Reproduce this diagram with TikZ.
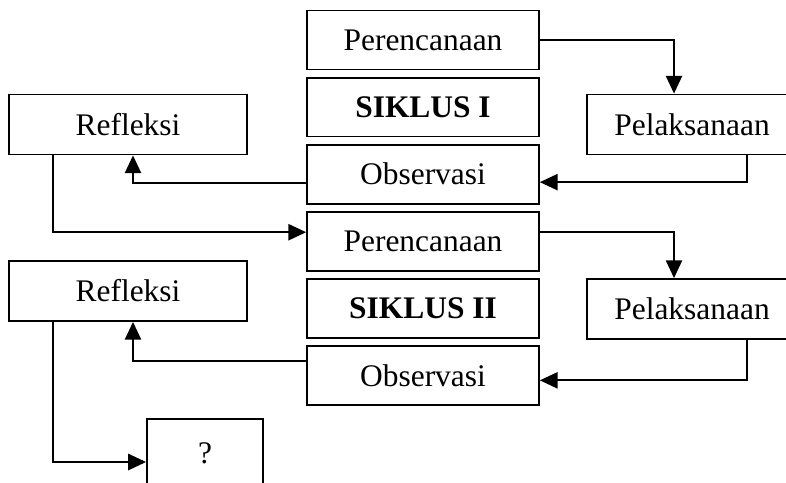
\documentclass[tikz,border=0pt]{standalone}
\usepackage{fontspec}
\setmainfont{Liberation Serif}
\usetikzlibrary{arrows.meta,calc}

\begin{document}
\begin{tikzpicture}[
  x=0.3817pt, y=-0.3817pt,
  box/.style={rectangle, draw, line width=0.7pt, inner sep=0pt, minimum width=88.5pt, minimum height=22.5pt, font=\fontsize{12}{14}\selectfont},
  sidebox/.style={box, minimum width=90.8pt, minimum height=22.9pt},
  doebox/.style={box, minimum width=80pt, minimum height=22.9pt},
  flow/.style={line width=0.7pt, -{Triangle[length=6.8pt,width=6.2pt]}},
  node distance=25.6pt
]
\useasboundingbox (0,0) rectangle (786,482);

% Centre column
\node[box] (per1) at (423,40) {Perencanaan};
\node[box, below of=per1, font=\fontsize{12}{14}\selectfont\bfseries] (siklus1) {SIKLUS I};
\node[box, below of=siklus1] (obs1) {Observasi};
\node[box, below of=obs1] (per2) {Perencanaan};
\node[box, below of=per2, font=\fontsize{12}{14}\selectfont\bfseries] (siklus2) {SIKLUS II};
\node[box, below of=siklus2] (obs2) {Observasi};

% Side boxes
\node[sidebox] (ref1) at (128,124.5) {Refleksi};
\node[sidebox] (ref2) at (128,291) {Refleksi};
\node[doebox] (pel1) at (692,124.5) {Pelaksanaan};
\node[doebox] (pel2) at (692,309) {Pelaksanaan};
\node[box, minimum width=44.3pt, minimum height=26pt] (next) at (205,453) {?};

% Arrows
\draw[flow] (per1.east) -| ($(pel1.north)+(-18,0)$);
\draw[flow] ($(pel1.south)+(55,0)$) |- ($(obs1.east)+(0,8)$);
\draw[flow] ($(obs1.west)+(0,9)$) -| ($(ref1.south)+(5,0)$);
\draw[flow] ($(ref1.south)+(-75,0)$) |- ($(per2.west)+(0,-9)$);
\draw[flow] ($(per2.east)+(0,-9)$) -| ($(pel2.north)+(-18,0)$);
\draw[flow] ($(pel2.south)+(55,0)$) |- ($(obs2.east)+(0,5)$);
\draw[flow] ($(obs2.west)+(0,-14)$) -| ($(ref2.south)+(5,0)$);
\draw[flow] ($(ref2.south)+(-75,0)$) |- ($(next.west)+(0,9)$);

\end{tikzpicture}
\end{document}
